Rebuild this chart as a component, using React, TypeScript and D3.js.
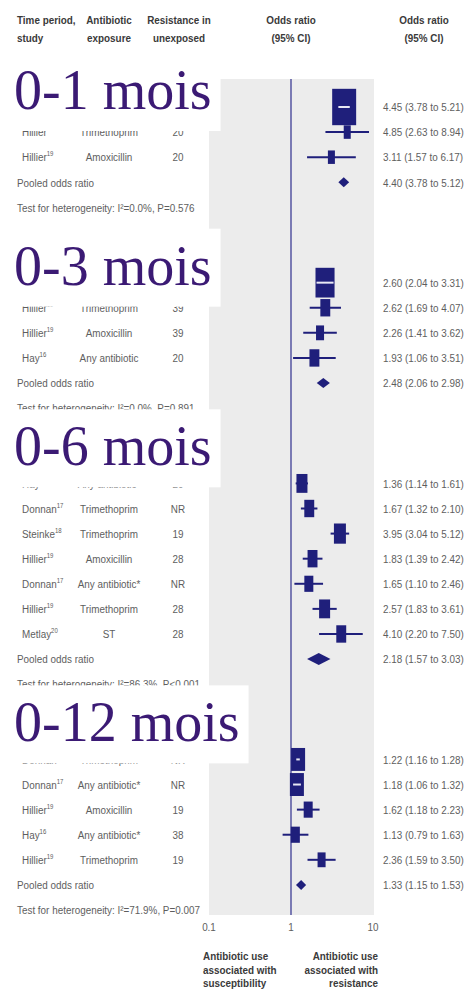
import React from "react";
import * as d3 from "d3";

// ---------- data ----------
const groupLabels = ["0-1 mois", "0-3 mois", "0-6 mois", "0-12 mois"];
const rowGroup = [0, 0, 0, 1, 1, 1, 1, 2, 2, 2, 2, 2, 2, 2, 3, 3, 3, 3, 3];
const rowStudy = [
  "Donnan", "Hillier", "Hillier",
  "Donnan", "Hillier", "Hillier", "Hay",
  "Hay", "Donnan", "Steinke", "Hillier", "Donnan", "Hillier", "Metlay",
  "Donnan", "Donnan", "Hillier", "Hay", "Hillier",
];
const rowRef = [
  "17", "19", "19",
  "17", "19", "19", "16",
  "16", "17", "18", "19", "17", "19", "20",
  "17", "17", "19", "16", "19",
];
const rowAntibiotic = [
  "Trimethoprim", "Trimethoprim", "Amoxicillin",
  "Trimethoprim", "Trimethoprim", "Amoxicillin", "Any antibiotic",
  "Any antibiotic*", "Trimethoprim", "Trimethoprim", "Amoxicillin", "Any antibiotic*", "Trimethoprim", "ST",
  "Trimethoprim", "Any antibiotic*", "Amoxicillin", "Any antibiotic*", "Trimethoprim",
];
const rowResistance = [
  "NR", "20", "20",
  "NR", "39", "39", "20",
  "20", "NR", "19", "28", "NR", "28", "28",
  "NR", "NR", "19", "38", "19",
];
const rowOR = [4.45, 4.85, 3.11, 2.6, 2.62, 2.26, 1.93, 1.36, 1.67, 3.95, 1.83, 1.65, 2.57, 4.1, 1.22, 1.18, 1.62, 1.13, 2.36];
const rowLo = [3.78, 2.63, 1.57, 2.04, 1.69, 1.41, 1.06, 1.14, 1.32, 3.04, 1.39, 1.1, 1.83, 2.2, 1.16, 1.06, 1.18, 0.79, 1.59];
const rowHi = [5.21, 8.94, 6.17, 3.31, 4.07, 3.62, 3.51, 1.61, 2.1, 5.12, 2.42, 2.46, 3.61, 7.5, 1.28, 1.32, 2.23, 1.63, 3.5];
const rowWeight = [76, 6.5, 6.5, 48, 13, 8.5, 13, 16, 13, 19, 13, 10.7, 16, 13, 26, 26, 10.7, 10.7, 8.5];
const pooledOR = [4.4, 2.48, 2.18, 1.33];
const pooledLo = [3.78, 2.06, 1.57, 1.15];
const pooledHi = [5.12, 2.98, 3.03, 1.53];
const heterogeneity = ["I²=0.0%, P=0.576", "I²=0.0%, P=0.891", "I²=86.3%, P<0.001", "I²=71.9%, P=0.007"];
const xTicks = [0.1, 1, 10];

// ---------- layout ----------
const W = 471;
const H = 995;
const NAVY = "#1f1f7b";
const TEXT = "#5e5e5e";
const DARK = "#3a3a3a";
const SANS = "'Liberation Sans', Arial, sans-serif";
const SX = 0.86;
const titleShift = [0, 0, -0.8, -0.8];
const BOX_ABOVE = 56;
const BOX_BELOW = 22;

const x = d3.scaleLog().domain([0.1, 10]).range([209, 373]);
const ySlot = d3.scaleLinear().domain([0, 32]).range([107, 910]);
const wScale = d3.scaleSqrt().domain([0, 100]).range([0, 27.5]);

const fmt = (v: number) => d3.format(".2f")(v);

function T(props: any) {
  const { x: tx, y: ty, anchor = "start", bold = false, size = 11.5, fill = TEXT, children } = props;
  return (
    <text
      transform={`translate(${tx},${ty}) scale(${SX},1)`}
      textAnchor={anchor}
      dominantBaseline="central"
      fontFamily={SANS}
      fontSize={size}
      fontWeight={bold ? 700 : 400}
      fill={fill}
    >
      {children}
    </text>
  );
}

function measureSerif(txt: string, size: number) {
  try {
    const c = document.createElement("canvas").getContext("2d");
    if (c) {
      c.font = `${size}px 'Liberation Serif'`;
      return c.measureText(txt).width;
    }
  } catch (e) {}
  return txt.length * size * 0.45;
}

export default function App() {
  // slot assignment
  const groupStart: number[] = [];
  const pooledSlot: number[] = [];
  const testSlot: number[] = [];
  const rowSlot: number[] = [];
  let s = 0;
  groupLabels.forEach((_, g) => {
    groupStart.push(s);
    rowGroup.forEach((rg, i) => {
      if (rg === g) {
        rowSlot[i] = s;
        s += 1;
      }
    });
    pooledSlot.push(s);
    testSlot.push(s + 1);
    s += 4;
  });

  const titleBase = groupLabels.map((_, g) => ySlot(groupStart[g] + titleShift[g]) + 2);

  const panelTop = 79;
  const panelBottom = 915;

  return (
    <svg width={W} height={H} style={{ position: "absolute", left: 0, top: 0, background: "#fff" }}>
      {/* header */}
      <T x={17} y={20} bold fill={DARK}>Time period,</T>
      <T x={17} y={38} bold fill={DARK}>study</T>
      <T x={109} y={20} bold anchor="middle" fill={DARK}>Antibiotic</T>
      <T x={109} y={38} bold anchor="middle" fill={DARK}>exposure</T>
      <T x={179} y={20} bold anchor="middle" fill={DARK}>Resistance in</T>
      <T x={179} y={38} bold anchor="middle" fill={DARK}>unexposed</T>
      <T x={x(1)} y={20} bold anchor="middle" fill={DARK}>Odds ratio</T>
      <T x={x(1)} y={38} bold anchor="middle" fill={DARK}>(95% CI)</T>
      <T x={424} y={20} bold anchor="middle" fill={DARK}>Odds ratio</T>
      <T x={424} y={38} bold anchor="middle" fill={DARK}>(95% CI)</T>

      {/* panel */}
      <rect x={x(0.1)} y={panelTop} width={x(10) - x(0.1) + 1} height={panelBottom - panelTop} fill="#ececec" />
      <line x1={x(1)} x2={x(1)} y1={panelTop} y2={panelBottom} stroke="#4b4b9c" strokeWidth={1.4} />

      {/* study rows */}
      {rowOR.map((or, i) => {
        const cy = ySlot(rowSlot[i]);
        const w = wScale(rowWeight[i]);
        const h = 1.35 * w + 4;
        const cx = x(or);
        const lo = x(rowLo[i]);
        const hi = x(rowHi[i]);
        const bl = cx - w / 2;
        const br = cx + w / 2;
        const inside = hi - lo < w;
        const g = rowGroup[i];
        // rows fully covered by their group's title box are not visible in the reference
        const covered = cy < titleBase[g] + BOX_BELOW - 7;
        return (
          <g key={"r" + i}>
            {!covered && (
              <>
                <T x={22} y={cy}>
                  {rowStudy[i]}
                  <tspan fontSize={7} dy={-4}>{rowRef[i]}</tspan>
                </T>
                <T x={109} y={cy} anchor="middle">{rowAntibiotic[i]}</T>
                <T x={178} y={cy} anchor="middle">{rowResistance[i]}</T>
              </>
            )}
            <line x1={lo} x2={hi} y1={cy} y2={cy} stroke={NAVY} strokeWidth={2} />
            <rect x={bl} y={cy - h / 2} width={w} height={h} fill={NAVY} />
            {inside && (
              <line x1={Math.max(lo, bl + 1)} x2={Math.min(hi, br - 1)} y1={cy} y2={cy} stroke="#e8e8f4" strokeWidth={2} />
            )}
            <T x={383} y={cy}>{`${fmt(or)} (${fmt(rowLo[i])} to ${fmt(rowHi[i])})`}</T>
          </g>
        );
      })}

      {/* pooled + heterogeneity */}
      {groupLabels.map((_, g) => {
        const cy = ySlot(pooledSlot[g]);
        const lo = x(pooledLo[g]);
        const hi = x(pooledHi[g]);
        const cx = x(pooledOR[g]);
        const dh = g === 2 ? 6 : 5;
        return (
          <g key={"p" + g}>
            <T x={17} y={cy}>Pooled odds ratio</T>
            <path d={`M${lo},${cy} L${cx},${cy - dh} L${hi},${cy} L${cx},${cy + dh} Z`} fill={NAVY} />
            <T x={383} y={cy}>{`${fmt(pooledOR[g])} (${fmt(pooledLo[g])} to ${fmt(pooledHi[g])})`}</T>
            <T x={17} y={ySlot(testSlot[g])}>{`Test for heterogeneity: ${heterogeneity[g]}`}</T>
          </g>
        );
      })}

      {/* title boxes */}
      {groupLabels.map((lab, g) => {
        const base = titleBase[g];
        const tw = measureSerif(lab, 56);
        const right = 14 + tw + 9;
        return (
          <g key={"t" + g}>
            <rect x={4} y={base - BOX_ABOVE} width={right - 4} height={BOX_ABOVE + BOX_BELOW} fill="#ffffff" />
            <text x={14} y={base} fontFamily="'Liberation Serif', 'Times New Roman', serif" fontSize={56} fill="#3b1a74">
              {lab}
            </text>
          </g>
        );
      })}

      {/* axis ticks */}
      {xTicks.map((t) => (
        <T key={"x" + t} x={x(t)} y={927} anchor="middle">{String(t)}</T>
      ))}

      {/* direction labels */}
      {["Antibiotic use", "associated with", "susceptibility"].map((l, i) => (
        <T key={"dl" + i} x={203} y={956 + i * 13.5} bold fill={DARK}>{l}</T>
      ))}
      {["Antibiotic use", "associated with", "resistance"].map((l, i) => (
        <T key={"dr" + i} x={378} y={956 + i * 13.5} anchor="end" bold fill={DARK}>{l}</T>
      ))}
    </svg>
  );
}
